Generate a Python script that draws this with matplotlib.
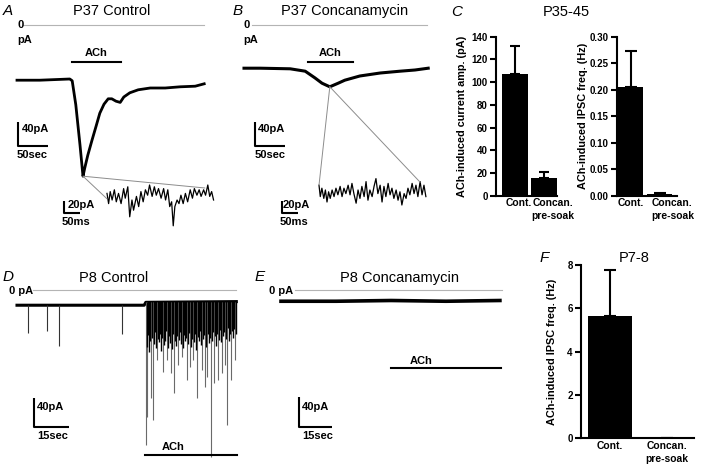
import numpy as np
import matplotlib
matplotlib.use('Agg')
import matplotlib.pyplot as plt
from matplotlib.patches import ConnectionPatch

plt.rcParams['font.family'] = ['Liberation Sans', 'DejaVu Sans']

# ---- data (time in s or ms, current in pA) ----
# A: P37 control whole trace
A_t = [0, 38, 88, 92, 98, 105, 110, 113, 118, 125, 132, 138, 145, 152, 158, 165, 172, 178, 188, 202, 222, 247, 272, 297, 312]
A_i = [-92, -92, -90, -93, -133, -200, -252, -238, -217, -192, -168, -147, -132, -123, -123, -127, -129, -120, -113, -108, -105, -105, -103, -102, -98]
A_ach = [92, 173]
# A inset (ms, pA)
A_ins_t = [0, 5, 10, 16, 23, 29, 36, 44, 52, 57, 65, 71, 78, 83, 92, 99, 106, 113, 120, 127, 133, 141, 148, 154, 161,
           169, 177, 183, 190, 196, 202, 207, 212, 219, 225, 231, 238, 245, 252, 260, 267, 273, 281, 288, 294, 302, 308,
           315, 321, 327, 333]
A_ins_i = [6, -11, 9, -5, 12, -8, 6, -11, 14, -2, 17, -33, -5, -22, 1, -16, 9, -8, 12, 3, 20, 1, 17, 3, 14,
           -2, 14, -5, 12, -16, -8, -48, -16, -5, -11, 3, -11, 6, -8, 12, -2, 14, 3, 12, 1, 12, 3,
           20, 1, 9, -5]

# B: P37 concanamycin
B_t = [0, 27, 77, 102, 118, 130, 143, 157, 168, 193, 227, 260, 285, 307]
B_i = [-72, -72, -73, -77, -88, -97, -103, -97, -92, -85, -80, -77, -75, -72]
B_ach = [107, 182]
B_ins_t = [0, 4, 9, 15, 20, 25, 30, 35, 41, 47, 53, 59, 66, 72, 78, 84, 91, 97, 103, 109, 116, 122, 128, 134, 141,
           147, 153, 159, 166, 172, 178, 184, 191, 197, 203, 209, 216, 222, 228, 234, 241, 247, 253, 259, 266, 272,
           278, 284, 291, 297, 303, 309, 316, 322, 328, 334]
B_ins_i = [8, -11, 3, -14, 0, -20, -3, -14, 0, -11, 3, -8, 6, -11, 3, -6, 8, -8, 11, -6, -22, 0, -14, 6, -11,
           14, -17, 0, -11, 6, 19, -6, 8, -20, 6, -11, 11, -8, 3, -14, 0, -17, -3, -25, -6, -14,
           3, -8, 11, -6, 8, -11, 14, -8, 8, -11]

# C: P35-45 summary
groups = ['Cont.', 'Concan.\npre-soak']
amp_mean = [107, 16]
amp_err = [25, 5]
freq_mean = [0.205, 0.003]
freq_err = [0.068, 0.002]

# D: P8 control
D_base_t = [0, 54.5, 55.2, 94]
D_base_i = [-21, -21, -17, -16]
D_ach = [55, 94.3]
D_pre_t = [4.7, 12.9, 18.0, 45.0]
D_pre_i = [-59, -57, -77, -61]
D_big_t = [55.3, 55.7, 57.4, 58.3, 60.0, 62.6, 64.3, 66.0, 67.3, 69.0, 70.7, 72.9, 74.2, 75.4, 77.2, 79.3, 80.6,
           81.4, 83.2, 84.4, 86.2, 87.9, 89.2, 90.0, 91.7, 93.4]
D_big_i = [-214, -175, -149, -179, -97, -113, -97, -114, -142, -103, -92, -124, -106, -97, -149, -110, -134,
           -120, -230, -128, -124, -114, -103, -186, -124, -97]
D_small_t = [55.6, 56.1, 56.5, 56.9, 57.8, 58.7, 59.1, 59.6, 60.4, 60.9, 61.3, 61.8, 62.2, 63.0, 63.5, 63.9,
             64.7, 65.2, 65.6, 66.5, 66.9, 67.8, 68.2, 68.6, 69.4, 69.9, 70.3, 71.2, 71.6, 72.1, 72.5, 73.4,
             73.8, 74.7, 75.0, 75.8, 76.3, 76.7, 77.7, 78.1, 78.6, 79.0, 79.8, 80.2, 81.0, 81.8, 82.3, 82.7,
             83.6, 84.0, 84.9, 85.3, 85.8, 86.6, 87.1, 87.5, 88.4, 88.8, 89.6, 90.5, 90.9, 91.3, 92.1, 92.6,
             93.0, 93.8]
D_small_i = [-78, -62, -85, -70, -66, -74, -58, -80, -68, -72, -60, -84, -66, -76, -70, -56,
             -80, -64, -73, -82, -60, -70, -77, -63, -69, -58, -75, -80, -62, -71, -66, -74,
             -59, -78, -67, -72, -61, -83, -65, -70, -57, -76, -68, -62, -79, -60, -73, -66,
             -71, -58, -64, -77, -60, -69, -55, -72, -63, -58, -67, -52, -70, -61, -56, -66,
             -54, -60]

# E: P8 concanamycin
E_t = [0, 25, 50, 75, 99.5]
E_i = [-15, -15, -14, -15, -14]
E_ach = [50, 100]

# F: P7-8 summary
p8_mean = [5.65, 0.02]
p8_err = [2.1, 0.0]

W, H = 701, 472
fig = plt.figure(figsize=(W / 100, H / 100), dpi=100)


def txt(x, y, s, size=8, weight='bold', ha='left', va='center', style='normal'):
    fig.text(x / W, 1 - y / H, s, fontsize=size, fontweight=weight, ha=ha, va=va, style=style)


def trace_axes(ox, oy, sx, sy):
    # full-figure axes, data origin placed at pixel (ox, oy), sx/sy = px per unit
    ax = fig.add_axes([0, 0, 1, 1])
    ax.set_xlim(-ox / sx, (W - ox) / sx)
    ax.set_ylim(-(H - oy) / sy, oy / sy)
    ax.axis('off')
    return ax


def scalebar(ax, t0, i0, dt, di):
    ax.plot([t0, t0, t0 + dt], [i0 + di, i0, i0], color='black', lw=1.5, solid_capstyle='butt')


GREY = '#b4b4b4'
LINKC = '#8c8c8c'

# ---------------- A ----------------
axA = trace_axes(17, 25, 0.6, 0.6)
axA.plot([10, 312], [0, 0], color=GREY, lw=0.8)
axA.plot(A_t, A_i, color='black', lw=2.0)
axA.plot(A_ach, [-62, -62], color='black', lw=1.5)
scalebar(axA, 1.7, -202, 50, 40)
axAi = trace_axes(107, 197, 0.32, 0.6)
axAi.plot(A_ins_t, A_ins_i, color='black', lw=0.9)
scalebar(axAi, -134, -27, 50, 20)
for p in [(A_ins_t[0], -3), (306, 15)]:
    fig.add_artist(ConnectionPatch(xyA=(110, -252), coordsA=axA.transData, xyB=p, coordsB=axAi.transData,
                                   color=LINKC, lw=0.7))

txt(3, 11, 'A', size=11, weight='normal', style='italic')
txt(112, 11, 'P37 Control', size=10.5, weight='normal', ha='center')
txt(17, 25, '0')
txt(17, 40, 'pA')
txt(96, 53, 'ACh', ha='center')
txt(22, 129, '40pA')
txt(17, 155, '50sec')
txt(68, 205, '20pA')
txt(62, 222, '50ms')

# ---------------- B ----------------
axB = trace_axes(244, 25, 0.6, 0.6)
axB.plot([13, 305], [0, 0], color=GREY, lw=0.8)
axB.plot(B_t, B_i, color='black', lw=2.2)
axB.plot(B_ach, [-62, -62], color='black', lw=1.5)
scalebar(axB, 18, -202, 50, 40)
axBi = trace_axes(319, 190, 0.32, 0.6)
axBi.plot(B_ins_t, B_ins_i, color='black', lw=0.9)
scalebar(axBi, -116, -38, 50, 20)
for p in [(B_ins_t[0], 8), (316, 13)]:
    fig.add_artist(ConnectionPatch(xyA=(143, -103), coordsA=axB.transData, xyB=p, coordsB=axBi.transData,
                                   color=LINKC, lw=0.7))

txt(233, 11, 'B', size=11, weight='normal', style='italic')
txt(345, 11, 'P37 Concanamycin', size=10.5, weight='normal', ha='center')
txt(243, 25, '0')
txt(243, 40, 'pA')
txt(330, 53, 'ACh', ha='center')
txt(258, 129, '40pA')
txt(255, 155, '50sec')
txt(283, 205, '20pA')
txt(280, 222, '50ms')

# ---------------- D ----------------
axD = trace_axes(17, 290, 35 / 15, 29 / 40)
axD.plot([6.9, 93.9], [0, 0], color=GREY, lw=0.8)
axD.plot(D_base_t, D_base_i, color='black', lw=2.2)
axD.vlines(D_pre_t, D_base_i[0], D_pre_i, color='#333333', lw=0.8)
axD.vlines(D_big_t, -17, D_big_i, color='#6a6a6a', lw=0.8)
axD.vlines(D_small_t, -17, D_small_i, color='black', lw=1.0)
axD.plot(D_ach, [-228, -228], color='black', lw=1.5)
scalebar(axD, 7.3, -189, 15, 40)

txt(3, 277, 'D', size=11, weight='normal', style='italic')
txt(114, 278, 'P8 Control', size=10.5, weight='normal', ha='center')
txt(33, 291, '0 pA', ha='right')
txt(173, 447, 'ACh', ha='center')
txt(37, 407, '40pA')
txt(37, 436, '15sec')

# ---------------- E ----------------
axE = trace_axes(281, 290, 2.2, 0.75)
axE.plot([6.4, 100.5], [0, 0], color=GREY, lw=0.8)
axE.plot(E_t, E_i, color='black', lw=2.6)
axE.plot(E_ach, [-104, -104], color='black', lw=1.5)
scalebar(axE, 8.2, -183, 15, 40)

txt(255, 277, 'E', size=11, weight='normal', style='italic')
txt(400, 278, 'P8 Concanamycin', size=10.5, weight='normal', ha='center')
txt(293, 291, '0 pA', ha='right')
txt(421, 361, 'ACh', ha='center')
txt(302, 407, '40pA')
txt(302, 436, '15sec')


# ---------------- bar panels ----------------
def bar_panel(l, t, r, b, means, errs, ylim, yticks, fmt, ylabel, lab_x, xlim, width, cap, xt):
    ax = fig.add_axes([l / W, 1 - b / H, (r - l) / W, (b - t) / H])
    ax.patch.set_alpha(0)
    ax.bar([0, 1], means, width=width, color='black',
           yerr=[[0, 0], errs], capsize=cap,
           error_kw=dict(elinewidth=1.5, capthick=1.5, ecolor='black'))
    ax.set_xlim(xlim)
    ax.set_ylim(ylim)
    ax.set_yticks(yticks)
    ax.set_yticklabels([fmt.format(v) for v in yticks], fontsize=7, fontweight='bold')
    ax.set_xticks(xt)
    ax.set_xticklabels(groups, fontsize=7.4, fontweight='bold', linespacing=1.35)
    ax.tick_params(axis='x', length=0, pad=2)
    ax.tick_params(axis='y', length=4, width=1.5, pad=2)
    for s in ['top', 'right']:
        ax.spines[s].set_visible(False)
    for s in ['left', 'bottom']:
        ax.spines[s].set_linewidth(1.5)
    ax.set_ylabel(ylabel, fontsize=7.8, fontweight='bold')
    ax.yaxis.set_label_coords(lab_x, 0.5)
    return ax


bar_panel(496, 36.7, 557, 195.7, amp_mean, amp_err, (0, 140), list(range(0, 141, 20)), '{:d}',
          'ACh-induced current amp. (pA)', -0.475, (-0.67, 1.45), 0.9, 3.6, [0.12, 1.3])
bar_panel(617, 36.7, 677, 195.7, freq_mean, freq_err, (0, 0.30),
          [0.0, 0.05, 0.10, 0.15, 0.20, 0.25, 0.30], '{:.2f}',
          'ACh-induced IPSC freq. (Hz)', -0.48, (-0.46, 1.58), 0.85, 4.5, [0.02, 1.42])
bar_panel(581, 265, 694, 438.3, p8_mean, p8_err, (0, 8), [0, 2, 4, 6, 8], '{:d}',
          'ACh-induced IPSC freq. (Hz)', -0.21, (-0.51, 1.47), 0.78, 4, [0, 1])

txt(451, 12, 'C', size=11, weight='normal', style='italic')
txt(566, 12, 'P35-45', size=10.5, weight='normal', ha='center')
txt(540, 258, 'F', size=11, weight='normal', style='italic')
txt(634, 258, 'P7-8', size=10.5, weight='normal', ha='center')

fig.savefig('out.png', dpi=100)
